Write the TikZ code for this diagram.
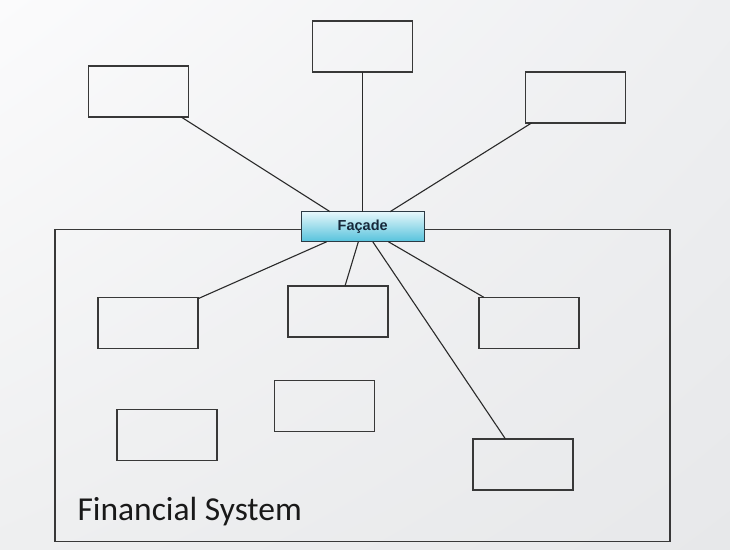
\documentclass[tikz,border=0pt]{standalone}
\usepackage{fontspec}
\usetikzlibrary{shadings}
\newfontfamily\carlito{Carlito}
\newfontfamily\arialf{Liberation Sans}
\definecolor{bgA}{HTML}{FBFBFC}
\definecolor{bgB}{HTML}{EEEFF1}
\definecolor{bgC}{HTML}{EEEFF0}
\definecolor{bgD}{HTML}{E7E8EA}
\definecolor{boxline}{HTML}{383838}
\definecolor{conline}{HTML}{2A2A2A}
\definecolor{facetop}{HTML}{E6F7FB}
\definecolor{facebot}{HTML}{55C2DC}
\definecolor{faceline}{HTML}{2C3A44}
\definecolor{facetext}{HTML}{17283A}
\begin{document}
\begin{tikzpicture}[x=1pt,y=-1pt,
  cls/.style={draw=boxline, line width=1.4pt, minimum width=100pt, minimum height=51pt, inner sep=0pt, outer sep=0pt},
  sysframe/.style={draw=boxline, line width=1.4pt, minimum width=615pt, minimum height=312.4pt, inner sep=0pt, outer sep=0pt},
  facadebox/.style={draw=faceline, line width=1.1pt, top color=facetop, bottom color=facebot, minimum width=123.3pt, minimum height=30pt, inner sep=0pt, outer sep=0pt, font=\arialf\bfseries\fontsize{14.5}{16}\selectfont, text=facetext},
  con/.style={draw=conline, line width=1.1pt}]
\useasboundingbox (0,0) rectangle (730,549);
\shade[upper left=bgA, upper right=bgB, lower left=bgC, lower right=bgD] (0,0) rectangle (730,549);
% container
\node[sysframe] (sys) at (362.5,385.5) {};
\node[anchor=base west, inner sep=0pt, font=\carlito\fontsize{33.5}{40}\selectfont, text=black!90] (syslabel) at (77.3,520) {Financial System};
% outside classes
\node[cls] (tl) at (138.2,91.5) {};
\node[cls] (tm) at (362.5,46.5) {};
\node[cls] (tr) at (575.5,97.5) {};
% inside classes
\node[cls] (l1) at (147.8,322.8) {};
\node[cls] (m1) at (338,311.5) {};
\node[cls] (r1) at (528.8,322.8) {};
\node[cls] (l2) at (167,434.7) {};
\node[cls] (m2) at (324.3,406) {};
\node[cls] (r2) at (522.8,464.5) {};
% facade
\node[facadebox] (f) at (362.7,226.7) {Façade};
% connectors
\draw[con] ([xshift=-7pt]tl.south east) -- ([xshift=29pt]f.north west);
\draw[con] (tm.south) -- (tm.south |- f.north);
\draw[con] ([xshift=6pt]tr.south west) -- ([xshift=89pt]f.north west);
\draw[con] ([yshift=-1.5pt]l1.north east) -- ([xshift=25.7pt]f.south west);
\draw[con] ([xshift=57pt]m1.north west) -- ([xshift=57.3pt]f.south west);
\draw[con] ([xshift=5pt]r1.north west) -- ([xshift=87.3pt]f.south west);
\draw[con] ([xshift=32.7pt]r2.north west) -- ([xshift=71.7pt]f.south west);
\end{tikzpicture}
\end{document}
